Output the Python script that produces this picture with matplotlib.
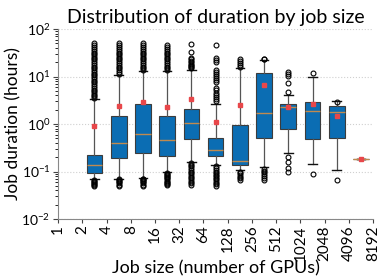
import matplotlib
matplotlib.use('Agg')
from matplotlib import pyplot as plt

plt.rcParams['font.family'] = ['Lato', 'DejaVu Sans']
plt.rcParams['mathtext.fontset'] = 'custom'
plt.rcParams['mathtext.rm'] = 'Lato'
plt.rcParams['mathtext.it'] = 'Lato'

# job size bins (number of GPUs) used as tick labels
sizes = ['1', '2', '4', '8', '16', '32', '64', '128', '256', '512',
         '1024', '2048', '4096', '8192']

# per-bin box statistics (hours), bins [2,4) ... [4096,8192)
q1 = [0.095, 0.19, 0.24, 0.21, 0.48, 0.21, 0.14, 0.52, 0.78, 0.48, 0.52, 0.18]
med = [0.138, 0.39, 0.61, 0.47, 1.03, 0.29, 0.17, 1.7, 2.24, 1.91, 1.76, 0.18]
q3 = [0.22, 1.5, 2.65, 1.5, 2.1, 0.5, 0.95, 12.0, 2.65, 2.86, 2.44, 0.18]
whislo = [0.069, 0.071, 0.074, 0.1, 0.155, 0.14, 0.11, 0.125, 0.24, 0.147, 0.11, 0.18]
whishi = [3.3, 10.8, 13.2, 13.2, 14.0, 2.65, 15.0, 22.5, 4.0, 9.7, 3.0, 0.18]
means = [0.92, 2.44, 2.96, 2.3, 3.4, 1.08, 2.56, 6.7, 2.3, 2.65, 1.5, 0.18]

fliers = [
    [3.5, 3.8, 4.1, 4.5, 4.9, 5.3, 5.8, 6.3, 6.9, 7.5, 8.2, 8.9, 9.7, 10.6,
     11.5, 12.5, 13.7, 14.9, 16.2, 17.7, 19.3, 21, 23, 25, 27, 29.5, 32, 35,
     38, 42, 46, 50,
     0.066, 0.063, 0.060, 0.057, 0.054, 0.052, 0.050],
    [11.5, 12.5, 13.7, 14.9, 16.2, 17.7, 19.3, 21, 23, 25, 27, 29.5, 32, 35,
     38, 42, 46, 50,
     0.068, 0.065, 0.062, 0.059, 0.056, 0.053, 0.050],
    [13.7, 14.9, 16.2, 17.7, 19.3, 21, 23, 25, 27, 29.5, 32, 35, 38, 42, 46, 50,
     0.071, 0.068, 0.065, 0.062, 0.059, 0.056, 0.053, 0.050],
    [13.8, 14.9, 16.2, 17.7, 19.3, 21, 23, 25, 27, 29.5, 32, 35, 38, 42, 45,
     0.095, 0.09, 0.085, 0.08, 0.076, 0.072, 0.068, 0.064, 0.06, 0.057,
     0.054, 0.051],
    [14.8, 15.7, 16.6, 17.6, 18.7, 20, 21.5, 23, 25, 33, 49,
     0.15, 0.14, 0.13, 0.12, 0.11, 0.1, 0.092, 0.085, 0.078, 0.072, 0.066,
     0.061, 0.056, 0.052],
    [3.0, 3.3, 3.7, 4.1, 4.6, 5.1, 5.7, 7.6, 8.4, 9.3, 10.3, 11.4, 12.6, 14,
     20, 22, 24, 47,
     0.13, 0.12, 0.11, 0.1, 0.093, 0.086, 0.08, 0.074, 0.068, 0.063, 0.058,
     0.054, 0.05],
    [16, 17.5, 19, 21, 23,
     0.1, 0.092, 0.085, 0.078, 0.072, 0.066],
    [23.2, 23.8,
     0.115, 0.105, 0.096, 0.088, 0.08, 0.073, 0.067],
    [4.7, 7.2, 10.5, 11.5, 12.3,
     0.2, 0.16, 0.12, 0.1],
    [12.0, 0.088],
    [2.9, 0.066],
    [],
]

stats = []
for k in range(len(med)):
    stats.append({'q1': q1[k], 'med': med[k], 'q3': q3[k], 'whislo': whislo[k],
                  'whishi': whishi[k], 'mean': means[k], 'fliers': fliers[k]})

fig = plt.figure(figsize=(3.85, 2.79), dpi=100)
ax = fig.add_axes([0.151, 0.215, 0.818, 0.681])

pos = [k + 1.5 for k in range(len(med))]
ax.bxp(stats, positions=pos, widths=0.65, capwidths=0.35, patch_artist=True,
       showmeans=True,
       boxprops=dict(facecolor='#0b6db3', edgecolor='#3c3c3c', linewidth=0.8),
       medianprops=dict(color='#c08a4f', linewidth=1.0),
       whiskerprops=dict(color='#555555', linewidth=0.9),
       capprops=dict(color='#111111', linewidth=1.0),
       meanprops=dict(marker='s', markerfacecolor='#e8474a', markeredgecolor='#e8474a',
                      markersize=3.5),
       flierprops=dict(marker='o', markerfacecolor='none', markeredgecolor='black',
                       markersize=3.5, markeredgewidth=0.8))

ax.set_yscale('log')
ax.set_ylim(0.01, 100)
ax.set_xlim(0, 13)
ax.set_xticks(range(len(sizes)))
ax.set_xticklabels(sizes, rotation=90, fontsize=11)
ax.tick_params(axis='y', labelsize=10, pad=2)
ax.tick_params(axis='x', pad=1.5, length=3)
ax.yaxis.grid(True, which='major', color='#d0d0d0', linestyle=':', linewidth=0.8)
ax.set_axisbelow(True)

for s in ['top', 'right']:
    ax.spines[s].set_visible(False)
for s in ['left', 'bottom']:
    ax.spines[s].set_color('#888888')
ax.tick_params(colors='#444444', labelcolor='black')

ax.set_title('Distribution of duration by job size', fontsize=14, pad=4)
ax.set_ylabel('Job duration (hours)', fontsize=12.5)
ax.set_xlabel('Job size (number of GPUs)', fontsize=13)
ax.yaxis.set_label_coords(-0.115, 0.5)
ax.xaxis.set_label_coords(0.5, -0.215)

fig.savefig('out.png', dpi=100)
